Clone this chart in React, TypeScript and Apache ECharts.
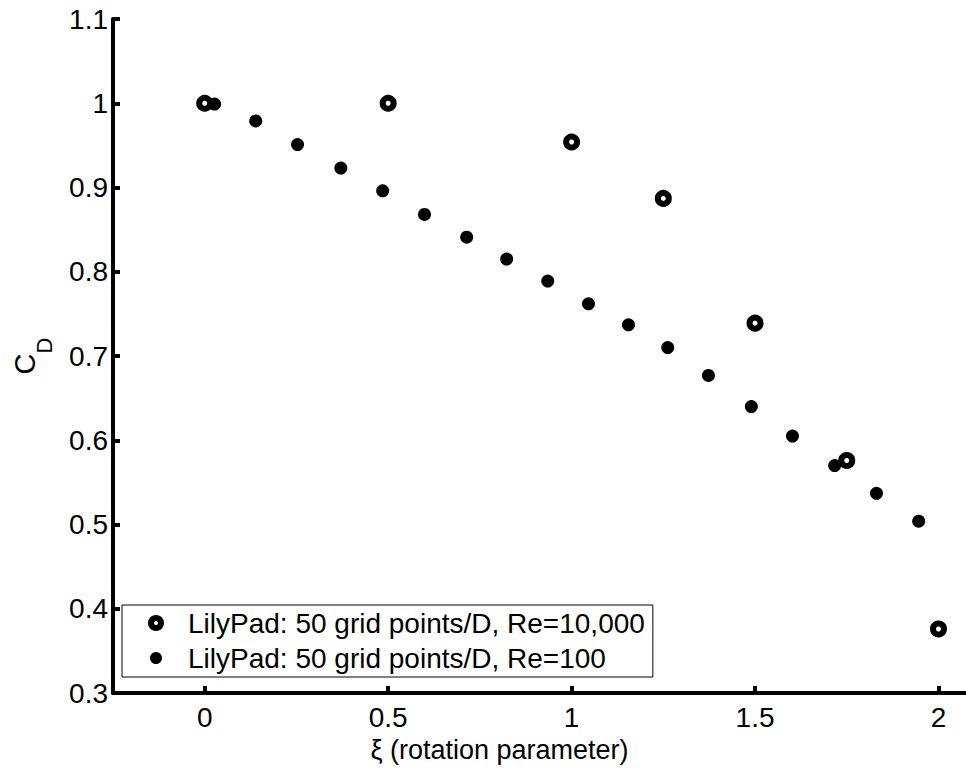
import React, { useEffect, useRef } from "react";
import * as echarts from "echarts";

const FONT = "'Liberation Sans', Arial, Helvetica, sans-serif";

const seriesNames = [
  "LilyPad: 50 grid points/D, Re=10,000",
  "LilyPad: 50 grid points/D, Re=100",
];

// Re = 10,000 (open circles)
const xiRe10000 = [0, 0.5, 1.0, 1.25, 1.5, 1.75, 2.0];
const cdRe10000 = [1.0, 1.0, 0.954, 0.887, 0.739, 0.576, 0.376];

// Re = 100 (filled dots)
const xiRe100 = [
  0.027, 0.139, 0.253, 0.371, 0.485, 0.599, 0.714, 0.823, 0.935, 1.046,
  1.155, 1.262, 1.373, 1.49, 1.602, 1.717, 1.831, 1.946,
];
const cdRe100 = [
  0.999, 0.979, 0.951, 0.923, 0.896, 0.868, 0.841, 0.815, 0.789, 0.762,
  0.737, 0.71, 0.677, 0.64, 0.605, 0.57, 0.537, 0.504,
];

const xTicks = [0, 0.5, 1, 1.5, 2];
const xAxisTitle = "ξ (rotation parameter)";

export default function App() {
  const ref = useRef<HTMLDivElement>(null);
  useEffect(() => {
    if (!ref.current) return;
    const chart = echarts.init(ref.current, null, { renderer: "svg" });
    const fmt = (v: number) => String(parseFloat(Number(v).toFixed(2)));
    chart.setOption({
      animation: false,
      backgroundColor: "#fff",
      grid: {
        left: 113,
        top: 19,
        right: 0,
        bottom: 75,
        containLabel: false,
        outerBoundsMode: "none",
      },
      xAxis: {
        type: "value",
        min: -0.25,
        max: 2.075,
        splitLine: { show: false },
        axisLine: { show: true, onZero: false, lineStyle: { color: "#000", width: 4 } },
        axisTick: {
          show: true,
          inside: true,
          length: 7,
          customValues: xTicks,
          lineStyle: { color: "#000", width: 4 },
        },
        axisLabel: {
          customValues: xTicks,
          formatter: fmt,
          color: "#000",
          fontSize: 28,
          fontFamily: FONT,
          margin: 10,
        },
        name: xAxisTitle,
        nameLocation: "middle",
        nameGap: 43,
        nameTextStyle: { color: "#000", fontSize: 27, fontFamily: FONT, padding: [0, 80, 0, 0] },
      },
      yAxis: {
        type: "value",
        min: 0.3,
        max: 1.1,
        interval: 0.1,
        splitLine: { show: false },
        axisLine: { show: true, onZero: false, lineStyle: { color: "#000", width: 4 } },
        axisTick: { show: true, inside: true, length: 7, lineStyle: { color: "#000", width: 4 } },
        axisLabel: {
          formatter: (v: number) => String(parseFloat(Number(v).toFixed(1))),
          color: "#000",
          fontSize: 28,
          fontFamily: FONT,
          margin: 5,
        },
        name: "{c|C}{d|D}",
        nameLocation: "middle",
        nameRotate: 90,
        nameGap: 58,
        nameTextStyle: {
          color: "#000",
          fontFamily: FONT,
          rich: {
            c: { fontSize: 29, fontFamily: FONT, color: "#000", verticalAlign: "top", lineHeight: 29 },
            d: { fontSize: 22, fontFamily: FONT, color: "#000", verticalAlign: "bottom", lineHeight: 45 },
          },
        },
      },
      legend: {
        orient: "vertical",
        left: 122,
        top: 605,
        backgroundColor: "#fff",
        borderColor: "#000",
        borderWidth: 1,
        borderRadius: 0,
        padding: [4, 8, 5, 26],
        itemGap: 7,
        itemWidth: 10,
        itemHeight: 10,
        textStyle: { color: "#000", fontSize: 28, fontFamily: FONT, padding: [0, 0, 0, 22] },
        data: [
          { name: seriesNames[0], icon: "circle", itemStyle: { color: "#fff", borderColor: "#000", borderWidth: 6 } },
          { name: seriesNames[1], icon: "circle", itemStyle: { color: "#000", borderColor: "#000", borderWidth: 2 } },
        ],
      },
      series: [
        {
          name: seriesNames[1],
          type: "scatter",
          symbol: "circle",
          symbolSize: 13,
          itemStyle: { color: "#000", opacity: 1 },
          data: xiRe100.map((x, i) => [x, cdRe100[i]]),
        },
        {
          name: seriesNames[0],
          type: "scatter",
          symbol: "circle",
          symbolSize: 11,
          itemStyle: { color: "#fff", borderColor: "#000", borderWidth: 6, opacity: 1 },
          data: xiRe10000.map((x, i) => [x, cdRe10000[i]]),
        },
      ],
    });
    return () => chart.dispose();
  }, []);
  return (
    <div
      ref={ref}
      style={{ position: "fixed", left: 0, top: 0, width: 966, height: 768, background: "#fff" }}
    />
  );
}
